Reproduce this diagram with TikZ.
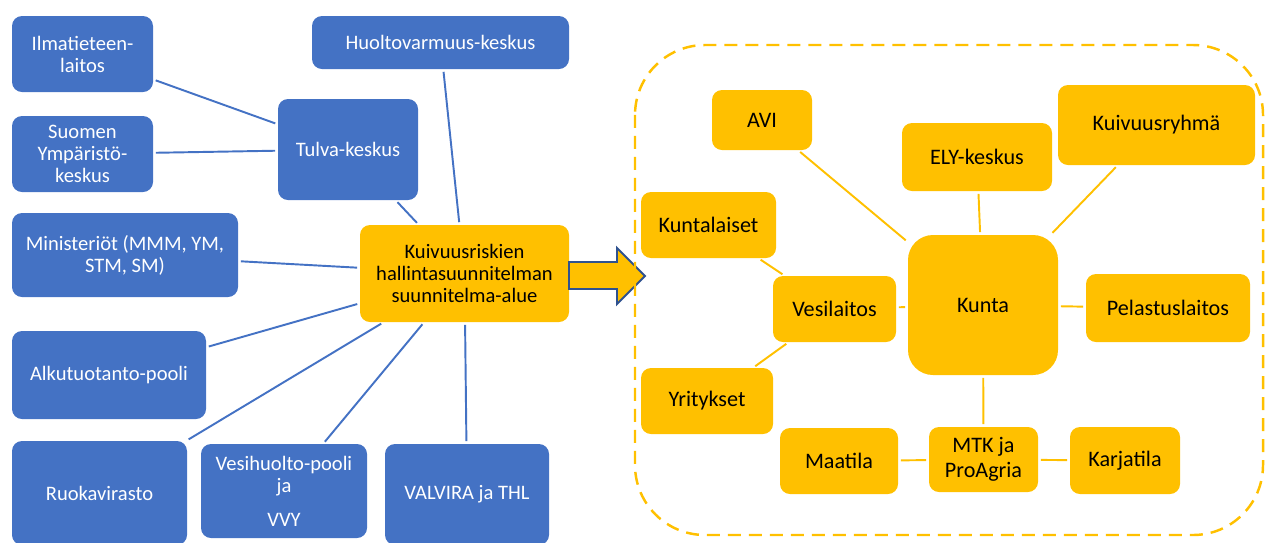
\documentclass[tikz,border=0pt]{standalone}
\usepackage{fontspec}
\setmainfont{Carlito}
\definecolor{blu}{HTML}{4472C4}
\definecolor{ylw}{HTML}{FFC000}
\definecolor{dblu}{HTML}{2F528F}

\begin{document}
\begin{tikzpicture}[x=0.02cm, y=-0.02cm,
    box/.style 2 args={rounded corners=0.2cm, inner sep=1pt, align=center,
      minimum width=#1*0.02cm, minimum height=#2*0.02cm,
      font=\fontsize{11.7}{12.5}\selectfont},
    bluebox/.style 2 args={box={#1}{#2}, fill=blu, text=white},
    ylwbox/.style 2 args={box={#1}{#2}, fill=ylw, text=black},
    bigbox/.style 2 args={ylwbox={#1}{#2}, font=\fontsize{12.6}{14}\selectfont},
    bline/.style={draw=blu, line width=1.1pt, shorten <=0.05cm, shorten >=0.05cm},
    yline/.style={draw=ylw, line width=1.1pt, shorten <=0.05cm, shorten >=0.05cm}]
  \useasboundingbox (0,0) rectangle (1266,542);

  % left side
  \node[bluebox={141}{76}] (ilma) at (82.5,54) {Ilmatieteen-\\laitos};
  \node[bluebox={141}{76}] (syke) at (82.5,154) {Suomen\\Ympäristö-\\keskus};
  \node[bluebox={257}{53}] (huolto) at (440.5,42.5) {Huoltovarmuus-keskus};
  \node[bluebox={140}{101}] (tulva) at (348,149.5) {Tulva-keskus};
  \node[bluebox={226}{84}] (min) at (125,255) {Ministeriöt (MMM, YM,\\STM, SM)};
  \node[bluebox={194}{88}] (alku) at (109,375) {Alkutuotanto-pooli};
  \node[bluebox={175}{104}] (ruoka) at (99.5,493) {Ruokavirasto};
  \node[bluebox={166}{94}] (vesih) at (284,491) {Vesihuolto-pooli\\ja\\[7pt]VVY};
  \node[bluebox={164}{101}] (valvira) at (467,494.5) {VALVIRA ja THL};
  \node[ylwbox={209}{97}] (alue) at (464.5,273.5) {Kuivuusriskien\\hallintasuunnitelman\\suunnitelma-alue};

  \draw[bline] (ilma) -- (tulva);
  \draw[bline] (syke) -- (tulva);
  \draw[bline] (tulva) -- (alue);
  \draw[bline] (huolto) -- (alue);
  \draw[bline] (min) -- (alue);
  \draw[bline] (alku) -- (alue);
  \draw[bline] (ruoka) -- (alue);
  \draw[bline] (vesih) -- (alue);
  \draw[bline] (valvira) -- (alue);

  % arrow
  \draw[fill=ylw, draw=dblu, line width=1.1pt] (569,262) -- (617,262) -- (617,248)
    -- (645,276) -- (617,304) -- (617,289) -- (569,289) -- cycle;

  % right side
  \draw[ylw, line width=1.4pt, dash pattern=on 0.26cm off 0.16cm, rounded corners=1.4cm]
    (635,45) rectangle (1263,535);

  \node[bigbox={100}{60}] (avi) at (762,120) {AVI};
  \node[bigbox={150}{68}] (ely) at (977,157) {ELY-keskus};
  \node[bigbox={197}{80}] (ryhma) at (1156.5,125) {Kuivuusryhmä};
  \node[bigbox={135}{66}] (kuntal) at (708.5,225) {Kuntalaiset};
  \node[bigbox={123}{66}] (vesil) at (834.5,309) {Vesilaitos};
  \node[bigbox={150}{140}, rounded corners=0.5cm] (kunta) at (983,305) {Kunta};
  \node[bigbox={164}{68}] (pelastus) at (1168,308) {Pelastuslaitos};
  \node[bigbox={132}{66}] (yrit) at (707,401) {Yritykset};
  \node[bigbox={118}{66}] (maatila) at (839,461) {Maatila};
  \node[bigbox={109}{65}] (mtk) at (983.5,459.5) {MTK ja\\ProAgria};
  \node[bigbox={110}{67}] (karja) at (1125,460.5) {Karjatila};

  \draw[yline] (avi) -- (kunta);
  \draw[yline] (ely) -- (kunta);
  \draw[yline] (ryhma) -- (kunta);
  \draw[yline] (kuntal) -- (vesil);
  \draw[yline] (yrit) -- (vesil);
  \draw[yline] (vesil) -- (kunta);
  \draw[yline] (kunta) -- (pelastus);
  \draw[yline] (kunta) -- (mtk);
  \draw[yline] (maatila) -- (mtk);
  \draw[yline] (mtk) -- (karja);
\end{tikzpicture}
\end{document}
